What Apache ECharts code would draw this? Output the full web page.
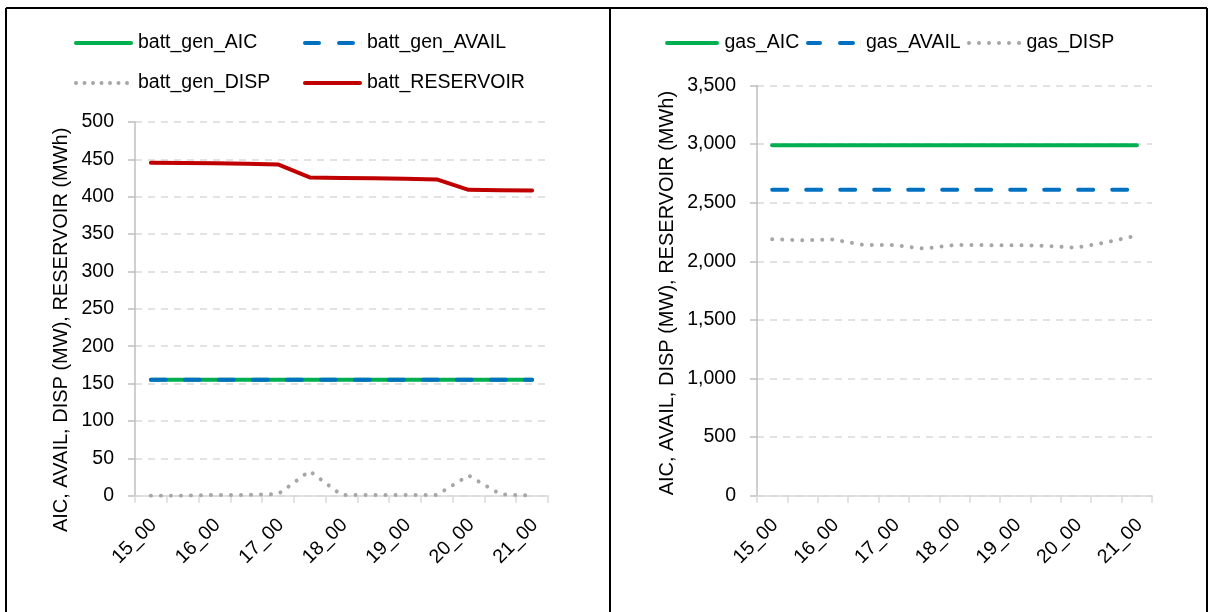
<!DOCTYPE html>
<html>
<head>
<meta charset="utf-8">
<script src="https://cdn.jsdelivr.net/npm/echarts@6/dist/echarts.min.js"></script>
<style>
html,body{margin:0;padding:0;background:#fff;}
#chart{width:1213px;height:612px;}
</style>
</head>
<body>
<div id="chart"></div>
<script>
const categories = ['15_00','15_30','16_00','16_30','17_00','17_30','18_00','18_30','19_00','19_30','20_00','20_30','21_00'];
const battGenAIC = [155,155,155,155,155,155,155,155,155,155,155,155,155];
const battGenAVAIL = [155,155,155,155,155,155,155,155,155,155,155,155,155];
const battGenDISP = [0,0,1,1,2,33,1,1,1,1,27,2,0];
const battReservoir = [445.5,445.2,444.8,444.2,443.3,425.9,425.2,424.6,424,423.2,409.2,408.6,408.4];
const gasAIC = [2990,2990,2990,2990,2990,2990,2990,2990,2990,2990,2990,2990,2990];
const gasAVAIL = [2610,2610,2610,2610,2610,2610,2610,2610,2610,2610,2610,2610,2610];
const gasDISP = [2188,2180,2186,2140,2138,2108,2139,2138,2138,2132,2116,2162,2220];
const leftTicks = {min:0, max:500, interval:50};
const rightTicks = {min:0, max:3500, interval:500};
const axisTitle = 'AIC, AVAIL, DISP (MW), RESERVOIR (MWh)';

const FONT = '"Liberation Sans", Arial, sans-serif';
const TXT = '#000000';
const GREEN = '#00B050', BLUE = '#0070C0', GRAY = '#A6A6A6', RED = '#C00000';

const chart = echarts.init(document.getElementById('chart'), null, {renderer:'canvas'});

function xAxisDef(gridIndex){
  return {
    type:'category', gridIndex, data:categories, boundaryGap:true,
    axisLine:{lineStyle:{color:'#D9D9D9', width:1.5}},
    axisTick:{show:true, interval:0, length:7, lineStyle:{color:'#D9D9D9', width:1.5}},
    axisLabel:{interval:1, rotate:45, color:TXT, fontFamily:FONT, fontSize:19.5, margin:15,
      verticalAlign:'top', padding:[0,6,0,0]}
  };
}
function yAxisDef(gridIndex, t, fmt){
  return {
    type:'value', gridIndex, min:t.min, max:t.max, interval:t.interval,
    name:axisTitle, nameLocation:'middle', nameGap: gridIndex===0 ? 64 : 80, nameRotate:90,
    nameTextStyle:{color:TXT, fontFamily:FONT, fontSize:20, padding: gridIndex===0 ? [0,42,0,0] : [0,5,0,0]},
    axisLine:{show:true, lineStyle:{color:'#BFBFBF', width:1.5}},
    axisTick:{show:true, length:7, lineStyle:{color:'#BFBFBF', width:1.5}},
    axisLabel:{color:TXT, fontFamily:FONT, fontSize:19.5, margin:21, formatter:fmt},
    splitLine:{show:true, lineStyle:{color:'#D9D9D9', width:1.5, type:[7,6]}}
  };
}
const solid = (c)=>({color:c, width:4, cap:'round', join:'round'});
const dashed = (c)=>({color:c, width:4, type:[15,19], cap:'round'});
const dotted = (c)=>({color:c, width:4, type:[0.01,10], cap:'round'});

function mkSeries(name, data, xi, ls, z){
  return {name, type:'line', data, xAxisIndex:xi, yAxisIndex:xi, symbol:'none', lineStyle:ls, itemStyle:{color:ls.color}, z, animation:false};
}

// legend icon shapes (filled paths)
const ICON_SOLID_L = 'path://M2,0H57A2,2 0 0 1 57,4H2A2,2 0 0 1 2,0Z';
const ICON_DASH_L = 'path://M2,0H16A2,2 0 0 1 16,4H2A2,2 0 0 1 2,0Z M36,0H50A2,2 0 0 1 50,4H36A2,2 0 0 1 36,0Z M58.9,0H59V4H58.9Z';
const ICON_DOT_L = 'path://M0,2a2,2 0 1,0 4,0a2,2 0 1,0 -4,0Z M8.5,2a2,2 0 1,0 4,0a2,2 0 1,0 -4,0Z M17,2a2,2 0 1,0 4,0a2,2 0 1,0 -4,0Z M25.5,2a2,2 0 1,0 4,0a2,2 0 1,0 -4,0Z M34,2a2,2 0 1,0 4,0a2,2 0 1,0 -4,0Z M42.5,2a2,2 0 1,0 4,0a2,2 0 1,0 -4,0Z M51,2a2,2 0 1,0 4,0a2,2 0 1,0 -4,0Z M58.9,0H59V4H58.9Z';
const ICON_SOLID_R = 'path://M2,0H52A2,2 0 0 1 52,4H2A2,2 0 0 1 2,0Z';
const ICON_DASH_R = 'path://M2,0H14A2,2 0 0 1 14,4H2A2,2 0 0 1 2,0Z M34,0H47A2,2 0 0 1 47,4H34A2,2 0 0 1 34,0Z M54.9,0H55V4H54.9Z';
const ICON_DOT_R = 'path://M1,2a2,2 0 1,0 4,0a2,2 0 1,0 -4,0Z M11,2a2,2 0 1,0 4,0a2,2 0 1,0 -4,0Z M21,2a2,2 0 1,0 4,0a2,2 0 1,0 -4,0Z M31,2a2,2 0 1,0 4,0a2,2 0 1,0 -4,0Z M41,2a2,2 0 1,0 4,0a2,2 0 1,0 -4,0Z M51,2a2,2 0 1,0 4,0a2,2 0 1,0 -4,0Z M54.9,0H55V4H54.9Z';

function legendAt(name, icon, w, left, top){
  return {data:[{name, icon}], left, top, itemWidth:w, itemHeight:4, itemGap:6,
    textStyle:{color:TXT, fontFamily:FONT, fontSize:19.5}, selectedMode:false, padding:0};
}

const option = {
  animation:false,
  backgroundColor:'#ffffff',
  grid:[
    {left:135, top:122, width:413, height:373.7, containLabel:false},
    {left:757, top:85.5, width:395, height:410.2, containLabel:false}
  ],
  xAxis:[xAxisDef(0), xAxisDef(1)],
  yAxis:[yAxisDef(0, leftTicks, v=>v), yAxisDef(1, rightTicks, v=>v.toLocaleString('en-US'))],
  legend:[
    legendAt('batt_gen_AIC', ICON_SOLID_L, 59, 74, 33),
    legendAt('batt_gen_AVAIL', ICON_DASH_L, 59, 303, 33),
    legendAt('batt_gen_DISP', ICON_DOT_L, 59, 74, 73),
    legendAt('batt_RESERVOIR', ICON_SOLID_L, 59, 303, 73),
    legendAt('gas_AIC', ICON_SOLID_R, 55, 665, 33),
    legendAt('gas_AVAIL', ICON_DASH_R, 55, 806, 33),
    legendAt('gas_DISP', ICON_DOT_R, 55, 967, 33)
  ],
  series:[
    mkSeries('batt_gen_AIC', battGenAIC, 0, solid(GREEN), 2),
    mkSeries('batt_gen_AVAIL', battGenAVAIL, 0, dashed(BLUE), 3),
    mkSeries('batt_gen_DISP', battGenDISP, 0, dotted(GRAY), 4),
    mkSeries('batt_RESERVOIR', battReservoir, 0, solid(RED), 5),
    mkSeries('gas_AIC', gasAIC, 1, solid(GREEN), 2),
    mkSeries('gas_AVAIL', gasAVAIL, 1, dashed(BLUE), 3),
    mkSeries('gas_DISP', gasDISP, 1, dotted(GRAY), 4)
  ],
  graphic:[
    {type:'line', shape:{x1:6, y1:8, x2:1207, y2:8}, style:{stroke:'#000', lineWidth:2}, silent:true},
    {type:'line', shape:{x1:6, y1:8, x2:6, y2:612}, style:{stroke:'#000', lineWidth:2}, silent:true},
    {type:'line', shape:{x1:610, y1:8, x2:610, y2:612}, style:{stroke:'#000', lineWidth:2}, silent:true},
    {type:'line', shape:{x1:1207, y1:8, x2:1207, y2:612}, style:{stroke:'#000', lineWidth:2}, silent:true}
  ]
};
chart.setOption(option);
</script>
</body>
</html>
